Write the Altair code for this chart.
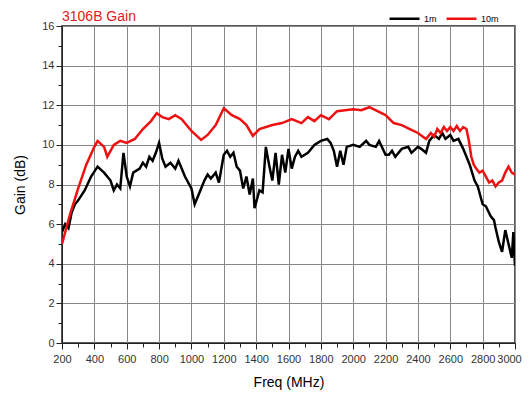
import altair as alt
import pandas as pd

# 10m series (red)
f10 = [200, 250, 300, 350, 400, 420, 460, 480, 520, 560, 600, 650, 700, 750, 785, 820, 860, 900, 940,
       1000, 1060, 1100, 1150, 1200, 1250, 1300, 1340, 1380, 1420, 1500, 1560, 1620, 1680, 1720, 1760,
       1800, 1850, 1900, 2000, 2050, 2100, 2150, 2200, 2250, 2300, 2350, 2400, 2450, 2480, 2500, 2520,
       2540, 2560, 2580, 2600, 2620, 2640, 2660, 2680, 2700, 2715, 2730, 2745, 2760, 2780, 2800, 2820,
       2840, 2860, 2880, 2900, 2920, 2940, 2960, 2980, 3000]
g10 = [5.0, 6.5, 7.8, 9.0, 9.9, 10.2, 9.9, 9.4, 10.0, 10.2, 10.1, 10.3, 10.8, 11.2, 11.6, 11.4, 11.3, 11.5, 11.3,
       10.7, 10.25, 10.5, 11.0, 11.85, 11.5, 11.3, 11.0, 10.45, 10.8, 11.0, 11.1, 11.3, 11.1, 11.4, 11.2,
       11.5, 11.3, 11.7, 11.8, 11.75, 11.9, 11.7, 11.5, 11.1, 11.0, 10.8, 10.6, 10.3, 10.6, 10.4, 10.8,
       10.6, 10.9, 10.7, 10.9, 10.7, 10.95, 10.7, 10.9, 10.8, 10.2, 9.4, 9.0, 8.8, 8.6, 8.7, 8.4,
       8.1, 8.2, 7.9, 8.1, 8.2, 8.6, 8.9, 8.6, 8.5]

# 1m series (black)
f1 = [200, 220, 240, 260, 280, 300, 340, 380, 420, 460, 500, 520, 540, 560, 580, 600, 620, 640, 680, 700,
      720, 740, 760, 780, 800, 820, 840, 870, 900, 920, 960, 1000, 1020, 1050, 1080, 1100, 1120, 1150,
      1170, 1200, 1220, 1240, 1260, 1280, 1300, 1320, 1340, 1360, 1380, 1390, 1420, 1440, 1460, 1480,
      1500, 1520, 1540, 1560, 1580, 1600, 1620, 1640, 1660, 1680, 1720, 1760, 1800, 1840, 1860, 1880,
      1900, 1920, 1940, 1960, 2000, 2040, 2080, 2100, 2140, 2160, 2200, 2220, 2240, 2260, 2300, 2340,
      2360, 2400, 2420, 2450, 2470, 2500, 2530, 2550, 2570, 2600, 2620, 2650, 2680, 2700, 2720, 2750,
      2770, 2800, 2820, 2850, 2870, 2880, 2900, 2920, 2940, 2960, 2980, 2990, 3000]
g1 = [5.6, 6.0, 5.8, 6.6, 7.0, 7.2, 7.7, 8.4, 8.9, 8.6, 8.2, 7.7, 8.0, 7.8, 9.6, 8.4, 7.9, 8.6, 8.8, 9.1,
      8.9, 9.4, 9.2, 9.6, 10.1, 9.3, 8.9, 9.1, 8.8, 9.2, 8.4, 7.8, 7.0, 7.6, 8.2, 8.5, 8.3, 8.6,
      8.1, 9.5, 9.7, 9.4, 9.6, 8.9, 8.7, 7.8, 8.4, 7.5, 8.3, 6.8, 7.7, 7.6, 9.9, 9.0,
      8.2, 9.6, 8.0, 9.5, 8.6, 9.8, 8.8, 9.4, 9.7, 9.4, 9.6, 10.0, 10.2, 10.3, 10.1, 9.7,
      8.9, 9.7, 9.0, 9.9, 10.0, 9.9, 10.2, 10.0, 9.9, 10.2, 9.5, 9.5, 9.7, 9.4, 9.8, 9.9,
      9.6, 9.9, 9.8, 9.6, 10.2, 10.5, 10.3, 10.6, 10.3, 10.5, 10.2, 10.3, 9.8, 9.4, 9.0, 8.2,
      7.9, 7.0, 6.9, 6.4, 6.2, 5.8, 5.1, 4.6, 5.7, 5.0, 4.3, 5.6, 3.9]

df = pd.concat([
    pd.DataFrame({"freq": f1, "gain": g1, "series": "1m"}),
    pd.DataFrame({"freq": f10, "gain": g10, "series": "10m"}),
])

minor_x = "datum.value % 200 === 0"
minor_y = "datum.value % 2 === 0"

chart = alt.Chart(df).mark_line(strokeWidth=2.5, clip=True).encode(
    x=alt.X("freq:Q", scale=alt.Scale(domain=[200, 3000], nice=False),
            axis=alt.Axis(title="Freq (MHz)", values=list(range(200, 3001, 100)),
                          labelExpr="datum.value % 200 === 0 ? datum.value : ''",
                          tickSize={"condition": {"test": minor_x, "value": 6}, "value": 4},
                          gridOpacity={"condition": {"test": minor_x, "value": 1}, "value": 0},
                          labelOffset={"condition": {"test": "datum.value === 3000", "value": -6}, "value": 0},
                          labelFontSize=11, titleFontSize=14, titleFontWeight="normal",
                          labelColor="#333", labelPadding=4, titlePadding=11, labelFlush=False)),
    y=alt.Y("gain:Q", scale=alt.Scale(domain=[0, 16], nice=False),
            axis=alt.Axis(title="Gain (dB)", values=list(range(0, 17)),
                          labelExpr="datum.value % 2 === 0 ? datum.value : ''",
                          tickSize={"condition": {"test": minor_y, "value": 6}, "value": 4},
                          gridOpacity={"condition": {"test": minor_y, "value": 1}, "value": 0},
                          labelFontSize=11, titleFontSize=14, titleFontWeight="normal",
                          labelColor="#333", titlePadding=14)),
    color=alt.Color("series:N", scale=alt.Scale(domain=["1m", "10m"], range=["#000000", "#ee1111"]),
                    legend=alt.Legend(title=None, orient="none", legendX=326, legendY=-24,
                                      direction="horizontal", symbolType="stroke",
                                      symbolSize=900, symbolStrokeWidth=2.5, labelFontSize=9,
                                      columnPadding=4, labelOffset=3)),
).properties(
    width=453, height=317,
    title=alt.TitleParams("3106B Gain", anchor="start", frame="group", color="#e02020", fontSize=14,
                          fontWeight="normal", offset=5, dy=27),
    autosize=alt.AutoSizeParams(type="none"),
    padding={"left": 54, "top": 18, "right": 7, "bottom": 50},
).configure(font="Liberation Sans").configure_axis(
    domainColor="#222", tickColor="#222", gridColor="#888", gridWidth=1
).configure_view(stroke="#222", strokeWidth=1.5)

chart.save("out.html", embed_options={"renderer": "svg", "actions": False})
